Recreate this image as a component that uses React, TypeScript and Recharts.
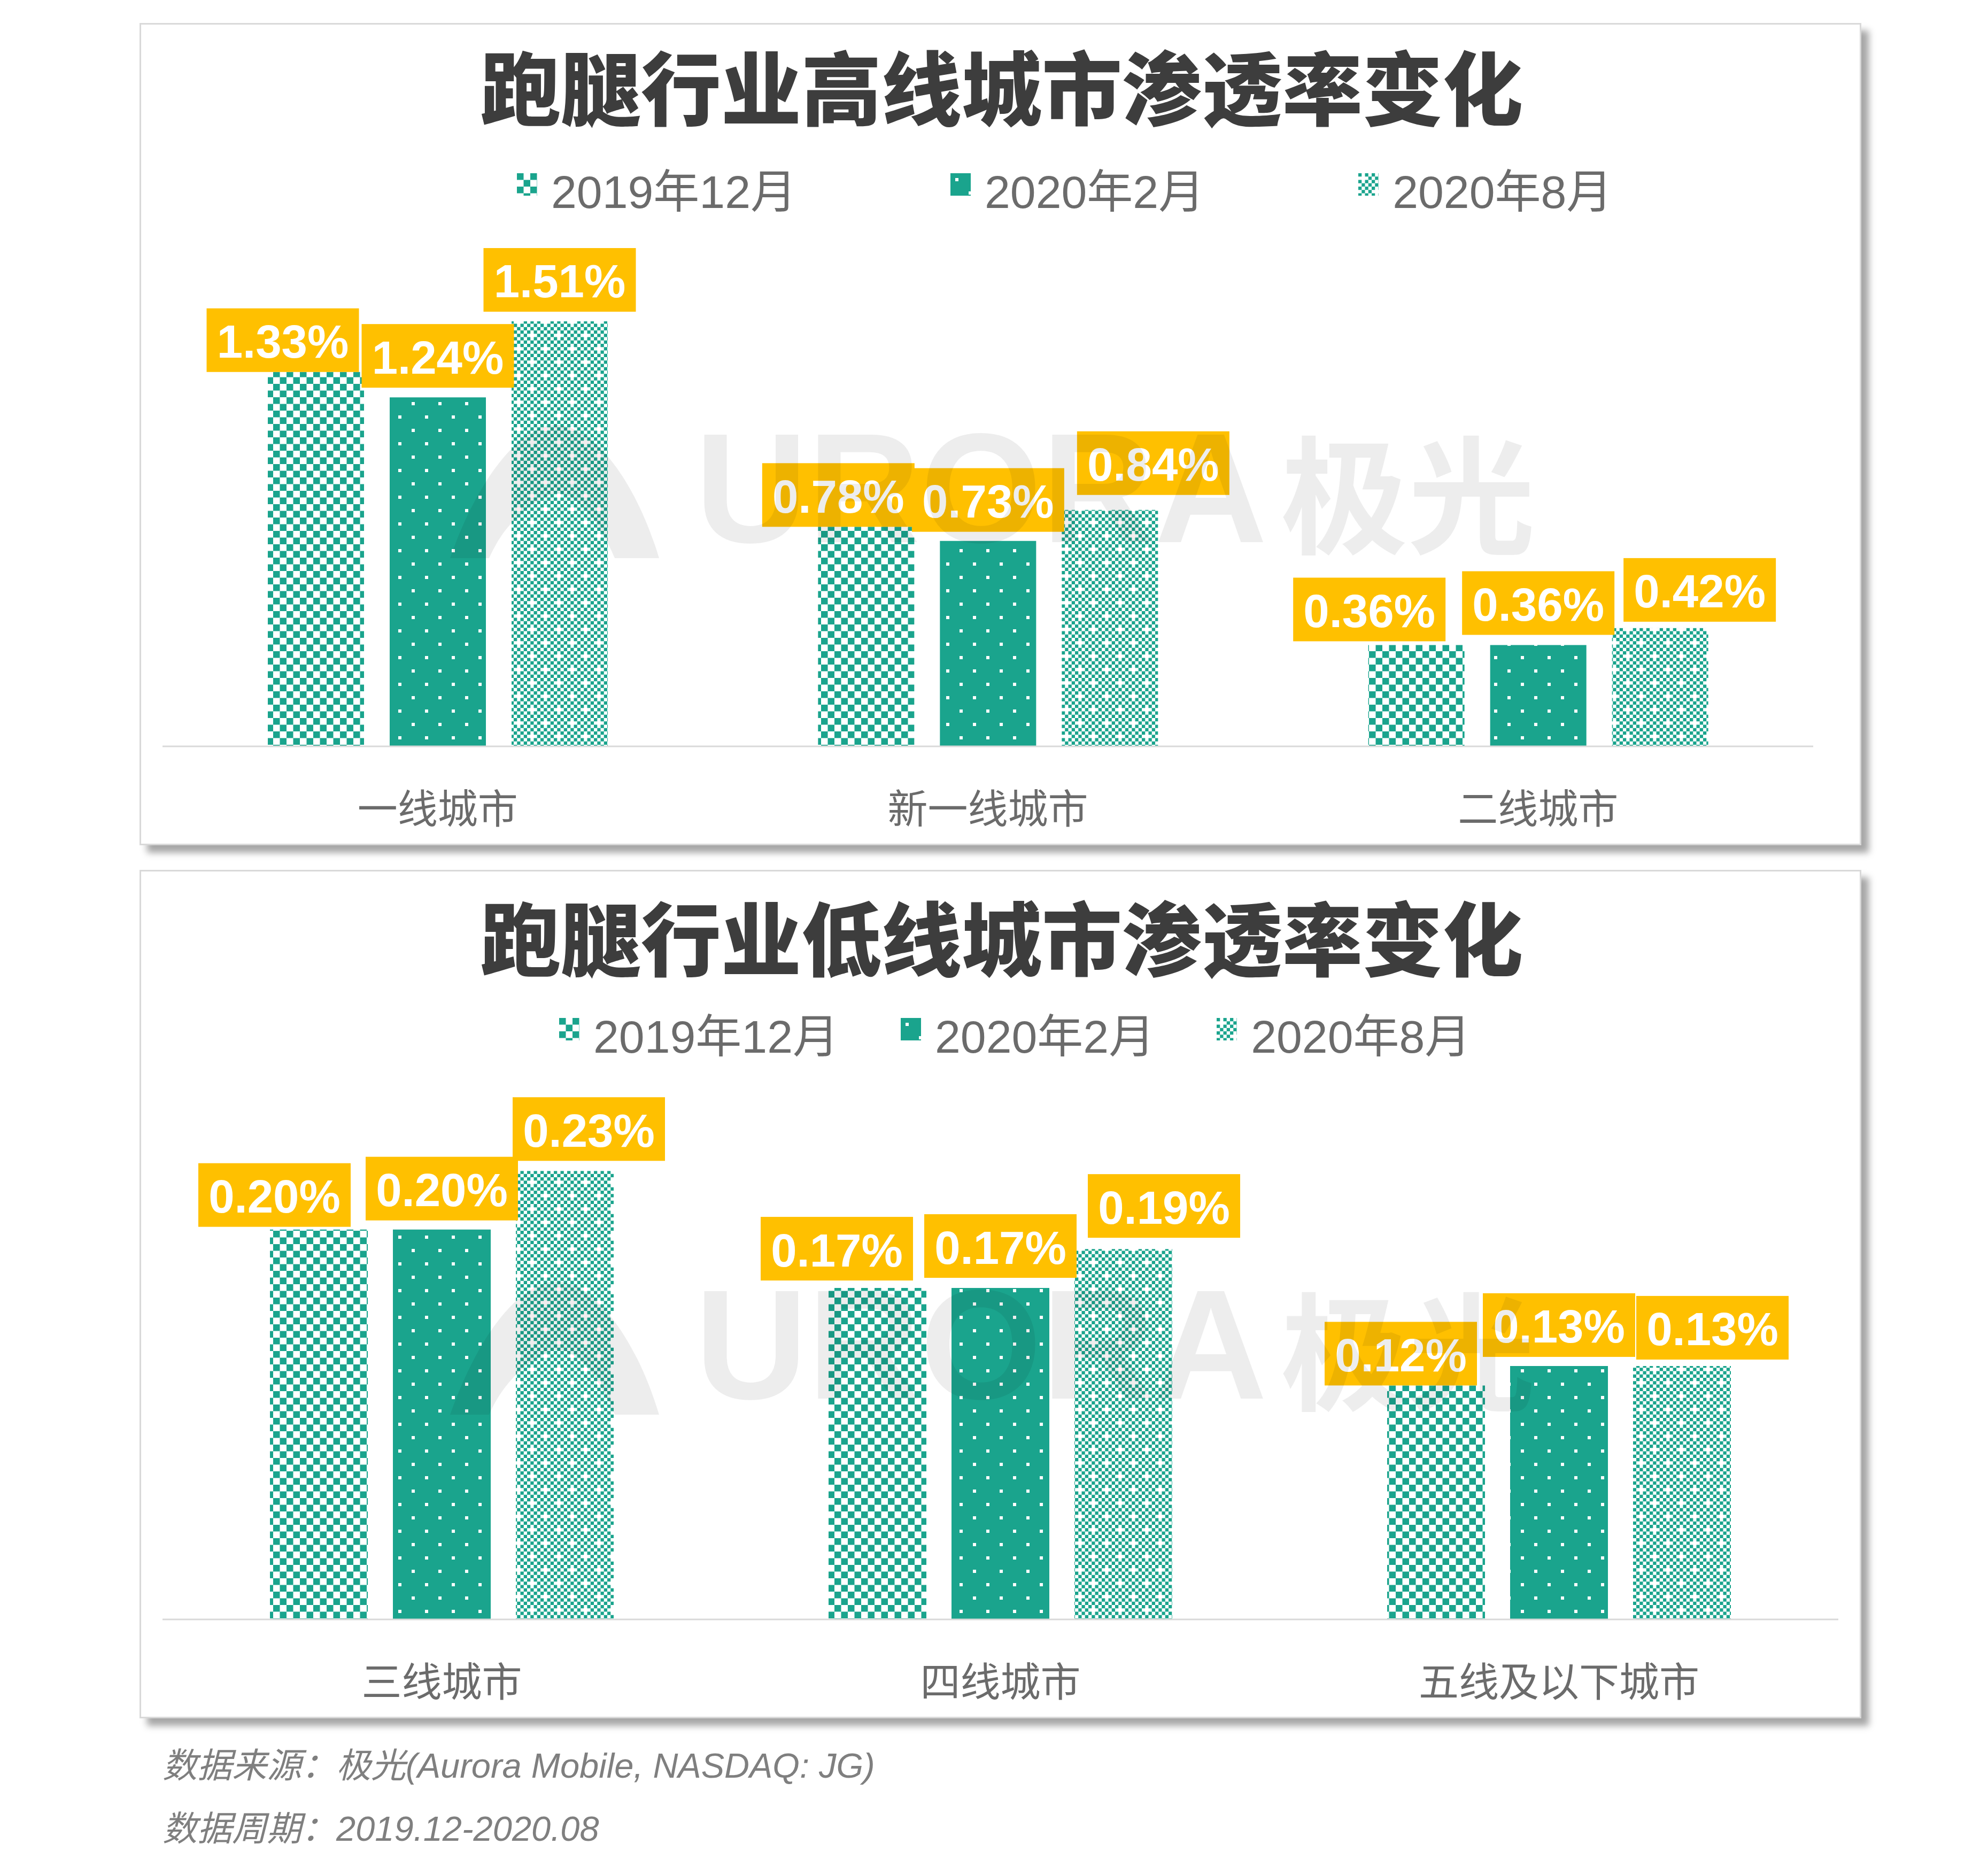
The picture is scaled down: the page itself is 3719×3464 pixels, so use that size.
import React from 'react';
import { BarChart, Bar, XAxis, YAxis, Legend, LabelList } from 'recharts';

// 跑腿行业渗透率 (%)
const highCities = ['一线城市', '新一线城市', '二线城市'];
const lowCities = ['三线城市', '四线城市', '五线及以下城市'];
const seriesNames = ['2019年12月', '2020年2月', '2020年8月'];

const highDec2019 = [1.33, 0.78, 0.36];
const highFeb2020 = [1.24, 0.73, 0.36];
const highAug2020 = [1.51, 0.84, 0.42];

const lowDec2019 = [0.2, 0.17, 0.12];
const lowFeb2020 = [0.2, 0.17, 0.13];
const lowAug2020 = [0.23, 0.19, 0.13];

// label nudges [dx, gap above bar], per series then per category
const highNudge = [
  [[-62, 0], [-52, 0], [-88, 7]],
  [[0, 18], [0, 17], [0, 19]],
  [[0, 18], [81, 28], [74, 12]],
];
const lowNudge = [
  [[-83, 5], [-76, 14], [-66, 0]],
  [[0, 17], [0, 19], [0, 17]],
  [[45, 19], [76, 21], [57, 12]],
];

const TEAL = '#1aa48d';
const YELLOW = '#ffc000';
const patternIds = ['pChecker', 'pDots', 'pFine'];

const highData = highCities.map((city, i) => ({
  city,
  a: highDec2019[i],
  b: highFeb2020[i],
  c: highAug2020[i],
}));
const lowData = lowCities.map((city, i) => ({
  city,
  a: lowDec2019[i],
  b: lowFeb2020[i],
  c: lowAug2020[i],
}));

const fineCells: { x: number; y: number }[] = [];
for (let i = 0; i < 8; i++) {
  for (let j = 0; j < 8; j++) {
    if ((i + j) % 2 === 0 && !(i === 1 && j === 1) && !(i === 5 && j === 5)) {
      fineCells.push({ x: i * 6.25, y: j * 6.25 });
    }
  }
}

const PatternDefs = () => (
  <svg width={0} height={0} style={{ position: 'absolute' }}>
    <defs>
      <pattern id="pChecker" width={25} height={25} patternUnits="userSpaceOnUse">
        <rect width={25} height={25} fill="#fff" />
        <rect x={0} y={0} width={12.5} height={12.5} fill={TEAL} />
        <rect x={12.5} y={12.5} width={12.5} height={12.5} fill={TEAL} />
      </pattern>
      <pattern id="pDots" width={50} height={50} patternUnits="userSpaceOnUse">
        <rect width={50} height={50} fill={TEAL} />
        <rect x={9} y={9} width={6} height={6} fill="#fff" />
        <rect x={34} y={34} width={6} height={6} fill="#fff" />
      </pattern>
      <pattern id="pFine" width={50} height={50} patternUnits="userSpaceOnUse">
        <rect width={50} height={50} fill="#fff" />
        {fineCells.map((c, k) => (
          <rect key={k} x={c.x} y={c.y} width={6.25} height={6.25} fill={TEAL} />
        ))}
      </pattern>
    </defs>
  </svg>
);

const makeLabel = (nudge: number[][]) => (props: any) => {
  const { x, y, width, value, index } = props;
  const [dx, gap] = nudge[index] || [0, 15];
  const cx = Number(x) + Number(width) / 2 + dx;
  const bottom = Number(y) - gap;
  return (
    <g>
      <rect x={cx - 142.5} y={bottom - 119} width={285} height={119} fill={YELLOW} />
      <text
        x={cx}
        y={bottom - 57}
        textAnchor="middle"
        dominantBaseline="central"
        fill="#fff"
        fontSize={87}
        fontWeight={700}
        fontFamily="'Liberation Sans', Arial, sans-serif"
      >
        {Number(value).toFixed(2)}%
      </text>
    </g>
  );
};

const CityTick = (props: any) => {
  const { x, y, payload } = props;
  return (
    <text
      x={x}
      y={Number(y) + 111}
      textAnchor="middle"
      dominantBaseline="central"
      fontSize={75}
      fill="#6b6b6b"
      fontFamily="'Noto Sans CJK SC', sans-serif"
    >
      {payload.value}
    </text>
  );
};

const legendContent = (left: number, gap: number) => (props: any) => {
  const payload = props.payload || [];
  return (
    <div
      style={{
        display: 'flex',
        alignItems: 'center',
        height: 100,
        paddingLeft: left,
        gap,
        fontFamily: "'Liberation Sans', Arial, 'Noto Sans CJK SC', sans-serif",
        fontSize: 86,
        color: '#6b6b6b',
        lineHeight: '100px',
      }}
    >
      {payload.map((entry: any, i: number) => (
        <div key={i} style={{ display: 'flex', alignItems: 'center' }}>
          <svg width={38} height={42} style={{ marginRight: 26, position: 'relative', top: -14 }}>
            <rect width={38} height={42} fill={`url(#${patternIds[i]})`} />
          </svg>
          <span>{entry.value}</span>
        </div>
      ))}
    </div>
  );
};

type PanelProps = {
  data: any[];
  top: number;
  height: number;
  right: number;
  plotTop: number;
  max: number;
  barSize: number;
  barGap: number;
  nudge: number[][][];
  legendTop: number;
  legendLeft: number;
  legendGap: number;
};

const PanelChart = (p: PanelProps) => (
  <div style={{ position: 'absolute', left: 261, top: p.top }}>
    <BarChart
      width={3221}
      height={p.height}
      data={p.data}
      margin={{ top: p.plotTop, right: p.right, bottom: 65, left: 43 }}
      barSize={p.barSize}
      barGap={p.barGap}
    >
      <XAxis
        dataKey="city"
        interval={0}
        height={120}
        tickLine={false}
        tickSize={0}
        tickMargin={0}
        axisLine={{ stroke: '#d9d9d9', strokeWidth: 3 }}
        tick={<CityTick />}
      />
      <YAxis hide width={0} type="number" domain={[0, p.max]} allowDataOverflow />
      <Legend
        layout="horizontal"
        verticalAlign="middle"
        align="center"
        content={legendContent(p.legendLeft, p.legendGap)}
        wrapperStyle={{ top: p.legendTop, left: 0, width: 3221, height: 100 }}
      />
      {['a', 'b', 'c'].map((key, si) => (
        <Bar
          key={key}
          dataKey={key}
          name={seriesNames[si]}
          fill={`url(#${patternIds[si]})`}
          isAnimationActive={false}
        >
          <LabelList dataKey={key} content={makeLabel(p.nudge[si])} />
        </Bar>
      ))}
    </BarChart>
  </div>
);

const panelStyle = (top: number, height: number): React.CSSProperties => ({
  position: 'absolute',
  left: 261,
  top,
  width: 3221,
  height,
  boxSizing: 'border-box',
  border: '3px solid #d9d9d9',
  background: '#fff',
  boxShadow: '14px 14px 12px rgba(0,0,0,0.35)',
});

const Watermark = ({ dy }: { dy: number }) => (
  <g fill="rgba(0,0,0,0.07)">
    <path
      d={`M 842 ${1044 + dy} C 900 ${880 + dy} 980 ${795 + dy} 1040 ${795 + dy} C 1110 ${795 + dy} 1190 ${900 + dy} 1233 ${1044 + dy} L 1150 ${1044 + dy} C 1110 ${950 + dy} 1060 ${905 + dy} 1020 ${930 + dy} C 960 ${960 + dy} 930 ${1010 + dy} 915 ${1044 + dy} Z`}
    />
    <text
      x={1300}
      y={913 + dy}
      dominantBaseline="central"
      fontSize={292}
      fontWeight={700}
      fontFamily="'Liberation Sans', Arial, sans-serif"
    >
      URORA
    </text>
    <text
      x={2396}
      y={913 + dy}
      dominantBaseline="central"
      fontSize={238}
      fontWeight={700}
      fontFamily="'Noto Sans CJK SC', sans-serif"
    >
      极光
    </text>
  </g>
);

export default function App() {
  return (
    <div
      style={{
        position: 'absolute',
        left: 0,
        top: 0,
        width: 3719,
        height: 3464,
        background: '#fff',
        overflow: 'hidden',
      }}
    >
      <PatternDefs />
      <div style={panelStyle(43, 1538)} />
      <div style={panelStyle(1627, 1587)} />
      <PanelChart
        data={highData}
        top={43}
        height={1538}
        right={90}
        plotTop={300}
        max={2}
        barSize={180}
        barGap={48}
        nudge={highNudge}
        legendTop={266}
        legendLeft={706}
        legendGap={288}
      />
      <PanelChart
        data={lowData}
        top={1627}
        height={1587}
        right={43}
        plotTop={308}
        max={0.3}
        barSize={183}
        barGap={47}
        nudge={lowNudge}
        legendTop={262}
        legendLeft={785}
        legendGap={116}
      />
      <svg
        width={3719}
        height={3464}
        style={{ position: 'absolute', left: 0, top: 0, pointerEvents: 'none' }}
      >
        <Watermark dy={0} />
        <Watermark dy={1602} />
        <g fontFamily="'Noto Sans CJK SC', sans-serif" fontWeight={900} fontSize={150} fill="#3d3d3d">
          <text x={1874} y={157} textAnchor="middle" dominantBaseline="central">
            跑腿行业高线城市渗透率变化
          </text>
          <text x={1874} y={1748} textAnchor="middle" dominantBaseline="central">
            跑腿行业低线城市渗透率变化
          </text>
        </g>
        <g
          fontFamily="'Liberation Sans', Arial, 'Noto Sans CJK SC', sans-serif"
          fontStyle="italic"
          fontSize={65}
          fill="#7f7f7f"
        >
          <text x={304} y={3302} dominantBaseline="central">
            数据来源：极光(Aurora Mobile, NASDAQ: JG)
          </text>
          <text x={304} y={3420} dominantBaseline="central">
            数据周期：2019.12-2020.08
          </text>
        </g>
      </svg>
    </div>
  );
}
